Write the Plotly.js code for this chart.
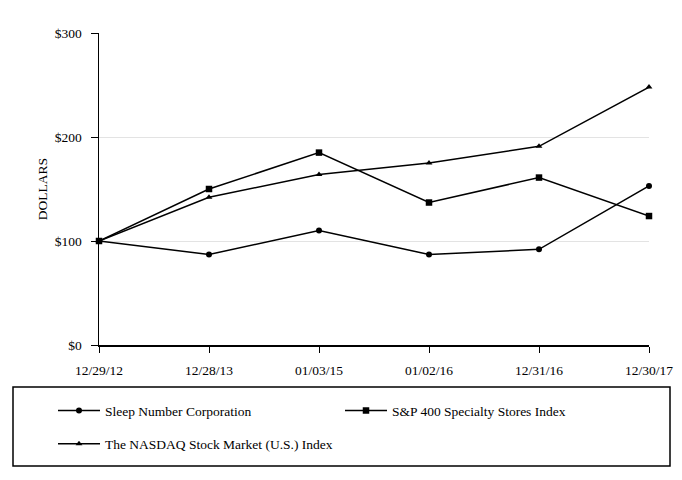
<!DOCTYPE html>
<html>
<head>
<meta charset="utf-8">
<script src="https://cdn.plot.ly/plotly-3.0.1.min.js"></script>
<style>html,body{margin:0;padding:0;background:#fff;}#chart{width:682px;height:480px;}</style>
</head>
<body>
<div id="chart"></div>
<script>
var dates = ["12/29/12", "12/28/13", "01/03/15", "01/02/16", "12/31/16", "12/30/17"];
var sleepNumber = [100, 87, 110, 87, 92, 153];
var sp400Specialty = [100, 150, 185, 137, 161, 124];
var nasdaq = [100, 142, 164, 175, 191, 248];
var yTicks = [0, 100, 200, 300];
var yTickLabels = ["$0", "$100", "$200", "$300"];

var FONT = "Liberation Serif, Times New Roman, serif";

var traces = [
  {x: dates, y: sleepNumber, name: "Sleep Number Corporation", type: "scatter", mode: "lines+markers",
   line: {color: "#000", width: 1.5}, marker: {symbol: "circle", size: 6, color: "#000"},
   cliponaxis: false, legend: "legend"},
  {x: dates, y: sp400Specialty, name: "S&P 400 Specialty Stores Index", type: "scatter", mode: "lines+markers",
   line: {color: "#000", width: 1.5}, marker: {symbol: "square", size: 6.5, color: "#000"},
   cliponaxis: false, legend: "legend2"},
  {x: dates, y: nasdaq, name: "The NASDAQ Stock Market (U.S.) Index", type: "scatter", mode: "lines+markers",
   line: {color: "#000", width: 1.5}, marker: {symbol: "triangle-up", size: 6, color: "#000"},
   cliponaxis: false, legend: "legend3"}
];

var L = 99, R = 33, T = 33, B = 135;
var pw = 682 - L - R, ph = 480 - T - B;
function px2x(p) { return (p - L) / pw; }
function py2y(p) { return (480 - B - p) / ph; }

function leg(xp, yp) {
  return {x: px2x(xp), y: py2y(yp), xanchor: "left", yanchor: "middle", xref: "paper", yref: "paper",
    bgcolor: "rgba(0,0,0,0)", borderwidth: 0, itemwidth: 42,
    font: {family: FONT, size: 13.5, color: "#000"}};
}

var layout = {
  width: 682, height: 480,
  margin: {l: L, r: R, t: T, b: B, autoexpand: false},
  paper_bgcolor: "#fff", plot_bgcolor: "#fff",
  font: {family: FONT, size: 13, color: "#000"},
  showlegend: true,
  xaxis: {
    type: "category", range: [0, 5], showgrid: false, zeroline: false,
    showline: true, linecolor: "#000", linewidth: 1.5,
    ticks: "outside", ticklen: 6, tickcolor: "#000", tickwidth: 1,
    ticklabelstandoff: 6,
    tickfont: {family: FONT, size: 13.5, color: "#000"}, fixedrange: true
  },
  yaxis: {
    range: [0, 300], tickmode: "array", tickvals: yTicks, ticktext: yTickLabels,
    showgrid: true, gridcolor: "#e3e3e3", gridwidth: 1,
    zeroline: false, showline: true, linecolor: "#000", linewidth: 1.5,
    ticks: "outside", ticklen: 7, tickcolor: "#000", tickwidth: 1,
    ticklabelstandoff: 6,
    tickfont: {family: FONT, size: 13.5, color: "#000"},
    title: {text: "DOLLARS", font: {family: FONT, size: 13.5, color: "#000"}, standoff: 4},
    fixedrange: true
  },
  legend: leg(53, 410.7),
  legend2: leg(340, 410.7),
  legend3: leg(53, 444),
  shapes: [
    {type: "rect", xref: "paper", yref: "paper", x0: px2x(13), x1: px2x(670), y0: py2y(466), y1: py2y(387),
     line: {color: "#000", width: 1.5}, fillcolor: "rgba(0,0,0,0)"}
  ]
};

Plotly.newPlot("chart", traces, layout, {displayModeBar: false, staticPlot: true});
</script>
</body>
</html>
